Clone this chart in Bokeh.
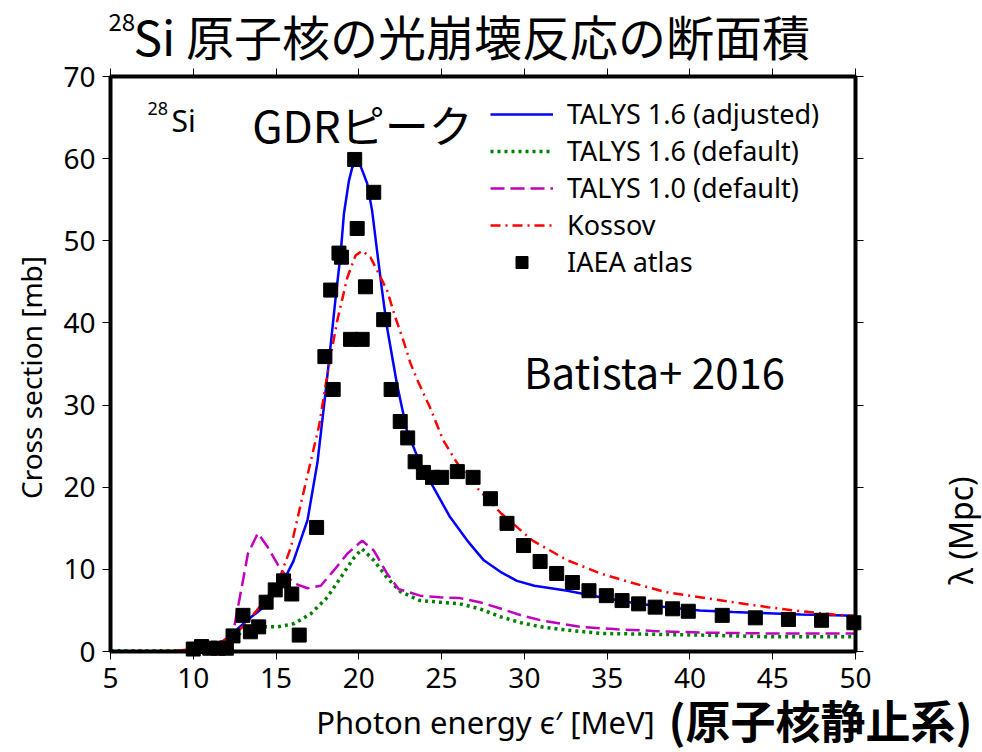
import math
from bokeh.plotting import figure
from bokeh.models import (Range1d, LinearAxis, Label, Legend, LegendItem,
                          FixedTicker, CustomJSTickFormatter, BoxAnnotation)
from bokeh.embed import file_html
from bokeh.resources import INLINE

# ---------------- data ----------------
x_ticks = [5, 10, 15, 20, 25, 30, 35, 40, 45, 50]
y_ticks = [0, 10, 20, 30, 40, 50, 60, 70]
x_lim = (5, 50)
y_lim = (0, 70)

talys16_adj_x = [5, 8, 10, 11, 12, 12.4, 12.7, 13.5, 14.5, 15.45, 16.05, 16.9, 17.5, 17.9,
                 18.2, 18.6, 18.9, 19.1, 19.4, 19.6, 19.8, 20.0, 20.2, 20.5, 20.8, 21.1,
                 21.4, 21.7, 22.3, 22.9, 23.7, 24.5, 25.5, 26.55, 27.55, 28.55, 29.55,
                 30.6, 32.6, 34.6, 36.6, 38.6, 40.6, 42.6, 44.7, 46.7, 50]
talys16_adj_y = [0, 0, 0.1, 0.3, 0.8, 1.9, 2.8, 4.2, 5.8, 8.6, 11.0, 16.0, 23.0, 30.0,
                 35.4, 43.1, 48.4, 53.3, 57.3, 58.9, 59.5, 59.6, 58.6, 57.0, 53.7, 48.8,
                 44.0, 39.5, 32.6, 26.9, 22.9, 20.0, 16.4, 13.5, 11.1, 9.7, 8.6,
                 8.0, 7.4, 6.6, 5.9, 5.4, 5.0, 4.8, 4.65, 4.5, 4.35]

talys16_def_x = [5, 10, 11, 12, 12.4, 13.0, 14.0, 15.1, 16.1, 17.1, 18.1, 18.9, 19.7, 20.2,
                 20.9, 21.7, 22.5, 23.7, 24.9, 26.1, 27.3, 28.6, 29.8, 31.0, 32.6, 34.6,
                 37.6, 40.6, 44.7, 50]
talys16_def_y = [0.1, 0.1, 0.2, 0.6, 1.3, 2.6, 3.0, 3.0, 3.4, 4.6, 6.6, 9.0, 11.4, 12.5,
                 11.1, 9.0, 7.3, 6.2, 6.0, 5.8, 5.2, 4.2, 3.5, 3.0, 2.6, 2.2,
                 2.1, 2.0, 1.8, 1.8]

talys10_def_x = [5, 10, 11, 12, 12.4, 12.85, 13.3, 13.9, 14.5, 15.3, 16.1, 16.9, 17.7, 18.5,
                 19.3, 20.2, 20.9, 21.7, 22.4, 23.7, 24.9, 26.1, 27.3, 28.6, 29.8, 31.0,
                 32.2, 33.4, 35.6, 37.8, 40.6, 44.7, 50]
talys10_def_y = [0, 0, 0.1, 0.5, 2.2, 7.0, 11.9, 14.4, 12.7, 9.9, 8.3, 7.7, 8.0, 9.9,
                 11.9, 13.5, 12.3, 9.5, 7.6, 6.8, 6.6, 6.5, 6.0, 5.2, 4.4, 3.8,
                 3.4, 3.0, 2.7, 2.5, 2.3, 2.2, 2.2]

kossov_x = [5, 8, 9, 10, 11, 11.8, 13.0, 14.0, 15.1, 15.9, 16.5, 17.1, 17.6, 18.0, 18.3,
            18.7, 19.3, 19.8, 20.2, 20.7, 21.2, 21.7, 22.2, 22.7, 23.1, 23.5, 24.3, 25.1,
            25.95, 27.2, 28.6, 30.5, 32.6, 34.6, 36.6, 38.6, 40.6, 42.6, 44.7, 46.7,
            48.7, 50]
kossov_y = [0, 0, 0.1, 0.3, 0.7, 1.3, 3.0, 5.4, 8.3, 12.7, 18.0, 23.2, 27.5, 32.5, 36.0,
            40.3, 45.5, 48.2, 48.8, 48.0, 46.0, 44.0, 40.7, 37.8, 35.2, 33.2, 29.7, 25.7,
            22.9, 19.8, 16.8, 13.5, 11.1, 9.5, 8.3, 7.2, 6.6, 6.0, 5.4, 4.9,
            4.5, 4.3]

iaea_x = [10.0, 10.5, 11.0, 11.5, 12.0, 12.4, 13.0, 13.45, 13.95, 14.4, 14.95, 15.45,
          15.95, 16.4, 17.45, 17.95, 18.3, 18.45, 18.8, 18.95, 19.5, 19.75, 19.9, 20.2,
          20.4, 20.9, 21.5, 21.95, 22.5, 22.95, 23.4, 23.9, 24.45, 25.0, 25.95, 26.9,
          27.95, 28.95, 29.95, 30.95, 31.95, 32.9, 33.9, 34.95, 35.9, 36.9, 37.9, 38.95,
          39.9, 41.95, 43.95, 45.95, 47.95, 49.9]
iaea_y = [0.3, 0.6, 0.4, 0.4, 0.4, 1.9, 4.4, 2.4, 3.0, 6.0, 7.5, 8.6,
          7.0, 2.0, 15.1, 35.9, 44.0, 31.9, 48.5, 48.0, 38.0, 59.9, 51.5, 38.0,
          44.4, 55.9, 40.4, 31.9, 28.0, 26.0, 23.1, 21.8, 21.2, 21.2, 21.9, 21.2,
          18.6, 15.6, 12.9, 10.96, 9.5, 8.4, 7.4, 6.8, 6.2, 5.8, 5.4, 5.2,
          4.9, 4.4, 4.1, 3.9, 3.8, 3.5]

legend_labels = ["TALYS 1.6 (adjusted)", "TALYS 1.6 (default)", "TALYS 1.0 (default)",
                 "Kossov", "IAEA atlas"]

# ---------------- geometry ----------------
W, H = 982, 752
FL, FT, FR, FB = 110, 76, 855, 651      # axes box in picture pixels
kx = (FR - FL) / (x_lim[1] - x_lim[0])  # pixels per MeV
ky = (FB - FT) / (y_lim[1] - y_lim[0])  # pixels per mb

def dx(px):
    return x_lim[0] + (px - FL) / kx

def dy(py):
    return y_lim[0] + (FB - py) / ky

# the frame fills the whole canvas; the axes box is drawn with fixed-location axes
p = figure(width=W, height=H, x_range=Range1d(dx(0), dx(W)), y_range=Range1d(dy(H), dy(0)),
           output_backend="svg", toolbar_location=None, title=None,
           x_axis_location=None, y_axis_location=None,
           min_border_left=0, min_border_right=0, min_border_top=0, min_border_bottom=0)
p.background_fill_color = "white"
p.border_fill_color = "white"
p.outline_line_color = None
p.xgrid.visible = False
p.ygrid.visible = False

TICK_FONT = "Noto Sans"
blank = CustomJSTickFormatter(code="return ''")

def make_axis(ticks, loc, labelled, standoff=8):
    ax = LinearAxis(fixed_location=loc)
    ax.ticker = FixedTicker(ticks=ticks)
    ax.axis_line_color = None
    ax.major_tick_in = 0
    ax.major_tick_out = 8
    ax.major_tick_line_width = 1
    ax.major_tick_line_color = "black"
    ax.minor_tick_line_color = None
    ax.major_label_text_font = TICK_FONT
    ax.major_label_text_font_size = "28px"
    ax.major_label_text_color = "black"
    ax.major_label_standoff = standoff
    if not labelled:
        ax.formatter = blank
    return ax

p.add_layout(make_axis(x_ticks, y_lim[0], True, 8), "below")
p.add_layout(make_axis(y_ticks, x_lim[0], True, 7), "left")
p.add_layout(make_axis(x_ticks, y_lim[1], False), "above")
p.add_layout(make_axis(y_ticks, x_lim[1], False), "right")

# ---------------- curves ----------------
r_blue = p.line(talys16_adj_x, talys16_adj_y, line_color="#0000ff", line_width=2.5)
r_green = p.line(talys16_def_x, talys16_def_y, line_color="#008000", line_width=3.5,
                 line_dash="3 4")
r_mag = p.line(talys10_def_x, talys10_def_y, line_color="#bf00bf", line_width=2.5,
               line_dash="14 6")
r_red = p.line(kossov_x, kossov_y, line_color="#ff0000", line_width=2.5,
               line_dash="10 5 2 5")
r_sq = p.scatter(iaea_x, iaea_y, marker="square", size=14, fill_color="black",
                 line_color="black")

# axes box (spines)
p.add_layout(BoxAnnotation(left=x_lim[0], right=x_lim[1], bottom=y_lim[0], top=y_lim[1],
                           fill_alpha=0, line_color="black", line_width=4, line_alpha=1))

legend = Legend(items=[LegendItem(label=legend_labels[0], renderers=[r_blue]),
                       LegendItem(label=legend_labels[1], renderers=[r_green]),
                       LegendItem(label=legend_labels[2], renderers=[r_mag]),
                       LegendItem(label=legend_labels[3], renderers=[r_red]),
                       LegendItem(label=legend_labels[4], renderers=[r_sq])],
                location=(490, H - 280))
legend.label_text_font = TICK_FONT
legend.label_text_font_size = "27px"
legend.label_text_color = "black"
legend.glyph_width = 63
legend.glyph_height = 30
legend.label_standoff = 14
legend.spacing = 0
legend.padding = 0
legend.margin = 0
legend.border_line_color = None
legend.background_fill_alpha = 0
p.add_layout(legend)

# ---------------- texts ----------------
JP = "Noto Sans CJK JP"

def lab(px, py, text, size, font, bold=False, align="left", angle=0.0):
    l = Label(x=dx(px), y=dy(py), text=text, text_font=font, text_font_size=size,
              text_font_style="bold" if bold else "normal", text_align=align,
              text_baseline="middle", angle=angle, text_color="black")
    p.add_layout(l)
    return l

# title
lab(108, 21, "28", "24px", JP)
lab(133, 34, "Si 原子核の光崩壊反応の断面積", "48px", JP)
# axis labels
lab(485, 721, "Photon energy ϵ′ [MeV]", "31px", TICK_FONT, align="center")
lab(820, 719, "(原子核静止系)", "45px", JP, bold=True, align="center")
lab(30, 377, "Cross section [mb]", "28px", TICK_FONT, align="center", angle=math.pi / 2)
lab(960, 530, "λ (Mpc)", "32px", TICK_FONT, align="center", angle=math.pi / 2)
# annotations inside the axes box
lab(147, 108, "28", "18px", TICK_FONT)
lab(171, 120, "Si", "30px", TICK_FONT)
lab(362, 123, "GDRピーク", "44px", JP, align="center")
lab(654, 370, "Batista+ 2016", "42px", JP, align="center")

open("out.html", "w").write(file_html(p, INLINE))
